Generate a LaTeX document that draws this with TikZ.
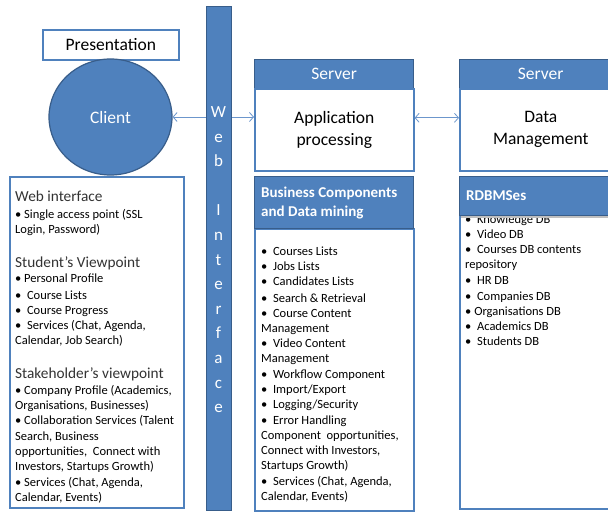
\documentclass[tikz,border=0pt]{standalone}
\usepackage{fontspec}
\setmainfont{Carlito}
\usetikzlibrary{arrows.meta,shapes.geometric}
\definecolor{bfill}{HTML}{4F81BD}
\definecolor{bdark}{HTML}{385D8A}
\definecolor{bline}{HTML}{4F81BD}
\definecolor{aline}{HTML}{6C96CC}
\begin{document}
\begin{tikzpicture}[x=1pt,y=-1pt,
  wbox/.style={draw=bline, line width=1.6pt, fill=white, inner sep=0pt, anchor=north west},
  bbox/.style={draw=bdark, line width=1.2pt, fill=bfill, inner sep=0pt, anchor=north west},
  big/.style={font=\fontsize{17.5}{22}\selectfont},
  txt/.style={anchor=base west, inner sep=0pt, font=\fontsize{12.5}{15}\selectfont, text=black},
  hd/.style={anchor=base west, inner sep=0pt, font=\fontsize{15.3}{18}\selectfont, text=black!80},
  hb/.style={anchor=base west, inner sep=0pt, font=\bfseries\fontsize{15}{18}\selectfont, text=white},
  letter/.style={anchor=base, inner sep=0pt, font=\fontsize{17}{20}\selectfont, text=white},
  conn/.style={draw=aline, line width=0.8pt, {Straight Barb[length=4pt,width=9pt]}-{Straight Barb[length=4pt,width=9pt]}}
]
\clip (0,0) rectangle (608,513);
\fill[white] (0,0) rectangle (608,513);

% Presentation / client
\node[wbox, minimum width=136, minimum height=30, big] (pres) at (42,29) {Presentation};

% left text box
\node[wbox, minimum width=174, minimum height=331] (left) at (9,176) {};
\node[hd] (h1) at (15,202) {Web interface};
\node[hd] (h2) at (15,268) {Student’s Viewpoint};
\node[hd] (h3) at (15,378) {Stakeholder’s viewpoint};
\foreach \yy/\ss [count=\i] in {
  219/{• Single access point (SSL},
  234/{Login, Password)},
  283/{• Personal Profile},
  299/{•\ \ Course Lists},
  314/{•\ \ Course Progress},
  329/{•\ \ Services (Chat, Agenda,},
  344/{Calendar, Job Search)},
  394/{• Company Profile (Academics,},
  409/{Organisations, Businesses)},
  424/{• Collaboration Services (Talent},
  440/{Search, Business},
  455/{opportunities,\ \ Connect with},
  470/{Investors, Startups Growth)},
  486/{• Services (Chat, Agenda,},
  501/{Calendar, Events)}}
  \node[txt] (L\i) at (15,\yy) {\ss};

% Client ellipse
\node[ellipse, draw=bdark, line width=1.2pt, fill=bfill, minimum width=123, minimum height=116, inner sep=0pt, text=white, big] (client) at (110.5,117) {Client};

% Server: application processing
\node[bbox, minimum width=159, minimum height=29, text=white, big] (srv1) at (254,59) {Server};
\node[wbox, minimum width=159, minimum height=82, align=center, big] (app) at (254,88) {Application\\processing};

% Server: data management
\node[bbox, minimum width=162, minimum height=29, text=white, big] (srv2) at (459,59) {Server};
\node[wbox, minimum width=162, minimum height=82, align=center, big] (data) at (459,88) {Data\\Management};

% connectors
\draw[conn] (client.east) -- (client.east -| app.west);
\draw[conn] ([yshift=12pt]app.east) -- ([yshift=12pt]data.west);

% Web interface bar
\node[bbox, minimum width=25, minimum height=504] (web) at (206,6) {};
\foreach \ch/\k [count=\i] in {W/0,e/1,b/2,I/4,n/5,t/6,e/7,r/8,f/9,a/10,c/11,e/12}
  \node[letter] (w\i) at (218.5,117.5+24.6*\k) {\ch};

% Business components
\node[wbox, minimum width=159, minimum height=282] (bus) at (254,228) {};
\node[bbox, minimum width=159, minimum height=52] (bush) at (254,176) {};
\node[hb] (bh1) at (261,198) {Business Components};
\node[hb] (bh2) at (261,217) {and Data mining};
\foreach \yy/\ss [count=\i] in {
  256/{•\ \ Courses Lists},
  271/{•\ \ Jobs Lists},
  286/{•\ \ Candidates Lists},
  302/{•\ \ Search \& Retrieval},
  317/{•\ \ Course Content},
  332/{Management},
  347/{•\ \ Video Content},
  362/{Management},
  378/{•\ \ Workflow Component},
  393/{•\ \ Import/Export},
  408/{•\ \ Logging/Security},
  424/{•\ \ Error Handling},
  439/{Component\ \ opportunities,},
  454/{Connect with Investors,},
  469/{Startups Growth)},
  485/{•\ \ Services (Chat, Agenda,},
  500/{Calendar, Events)}}
  \node[txt] (B\i) at (261,\yy) {\ss};

% RDBMSes
\node[wbox, minimum width=162, minimum height=332] (db) at (459,176) {};
\foreach \yy/\ss [count=\i] in {
  224/{•\ \ Knowledge DB},
  239/{•\ \ Video DB},
  254/{•\ \ Courses DB contents},
  269/{repository},
  284/{•\ \ HR DB},
  300/{•\ \ Companies DB},
  315/{• Organisations DB},
  330/{•\ \ Academics DB},
  345/{•\ \ Students DB}}
  \node[txt] (D\i) at (465,\yy) {\ss};
\fill[black!25] (461,179) rectangle (624,218);
\node[bbox, minimum width=162, minimum height=39] (dbh) at (459,176) {};
\node[hb] (dbt) at (466,201) {RDBMSes};
\end{tikzpicture}
\end{document}
